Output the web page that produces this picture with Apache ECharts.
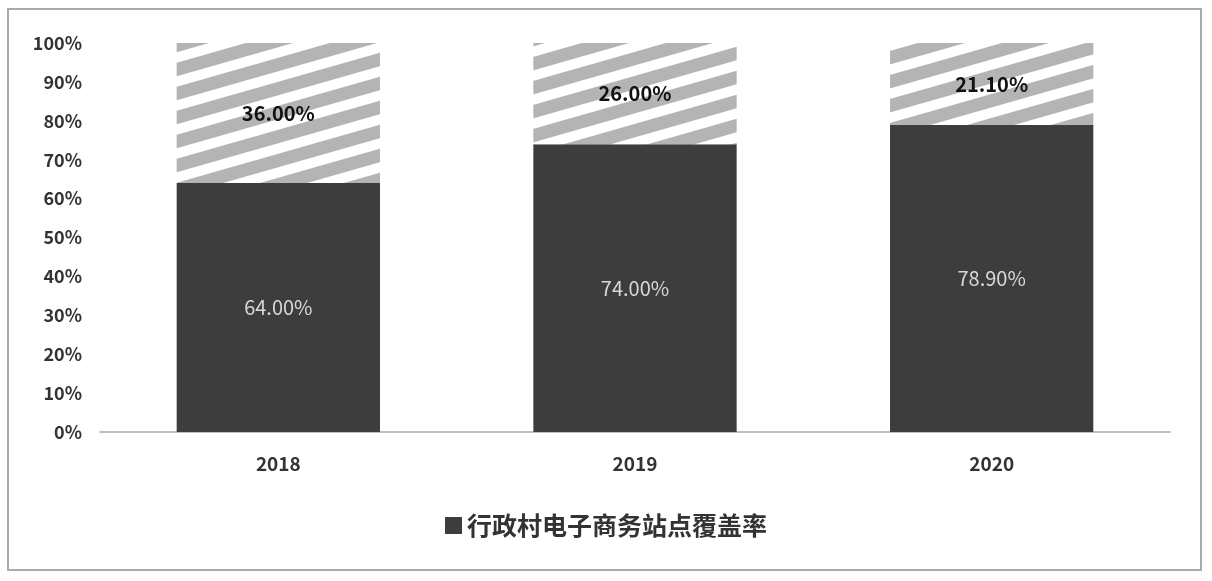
<!DOCTYPE html>
<html><head><meta charset="utf-8">
<script src="https://cdn.jsdelivr.net/npm/echarts@6/dist/echarts.min.js"></script>
<style>html,body{margin:0;padding:0;background:#fff}#c{width:1212px;height:581px}</style>
</head><body><div id="c"></div>
<script>
const categories = ['2018', '2019', '2020'];
const coverage = [64.0, 74.0, 78.9];
const remainder = [36.0, 26.0, 21.1];
const yTicks = [0, 10, 20, 30, 40, 50, 60, 70, 80, 90, 100];
const legendName = '行政村电子商务站点覆盖率';

function stripeTile() {
  const W = 84, H = 24;
  const c = document.createElement('canvas');
  c.width = W; c.height = H;
  const ctx = c.getContext('2d');
  ctx.fillStyle = '#ffffff';
  ctx.fillRect(0, 0, W, H);
  ctx.strokeStyle = '#b4b4b4';
  ctx.lineWidth = 13;
  for (let k = -1; k <= 1; k++) {
    ctx.beginPath();
    ctx.moveTo(-W, H + k * H + H);
    ctx.lineTo(2 * W, k * H - H);
    ctx.stroke();
  }
  return c;
}

const chart = echarts.init(document.getElementById('c'));
const font = '"Noto Sans CJK SC", "Noto Sans", sans-serif';
chart.setOption({
  animation: false,
  textStyle: { fontFamily: font },
  grid: { left: 100, right: 42, top: 43, bottom: 149 },
  legend: {
    data: [{ name: legendName, icon: 'rect' }],
    bottom: 38, left: 'center',
    itemWidth: 17, itemHeight: 17, itemGap: 8,
    textStyle: { fontSize: 25, fontWeight: 'bold', color: '#333', fontFamily: font }
  },
  xAxis: {
    type: 'category', data: categories,
    axisLine: { lineStyle: { color: '#aaaaaa', width: 1.5 } },
    axisTick: { show: false },
    axisLabel: { fontSize: 19, fontWeight: 'bold', color: '#333', margin: 22, fontFamily: font }
  },
  yAxis: {
    type: 'value', min: 0, max: 100, interval: 10,
    axisLine: { show: false }, axisTick: { show: false },
    splitLine: { show: false },
    axisLabel: { fontSize: 18, fontWeight: 'bold', color: '#333', margin: 18, fontFamily: font,
      formatter: v => yTicks.includes(v) ? v + '%' : '' }
  },
  graphic: [{
    type: 'rect', shape: { x: 8, y: 9, width: 1193, height: 561 },
    style: { fill: 'none', stroke: '#aaaaaa', lineWidth: 2 }, silent: true, z: -1
  }],
  series: [
    {
      name: legendName, type: 'bar', stack: 's', data: coverage, barWidth: '57%',
      itemStyle: { color: '#3d3d3d' },
      label: { show: true, position: 'inside', fontSize: 20, color: '#d8d8d8',
        fontFamily: font, formatter: p => p.value.toFixed(2) + '%' }
    },
    {
      name: 'rest', type: 'bar', stack: 's', data: remainder, barWidth: '57%',
      itemStyle: { color: { image: stripeTile(), repeat: 'repeat' } },
      label: { show: true, position: 'inside', fontSize: 20, fontWeight: 'bold', color: '#111',
        fontFamily: font, formatter: p => p.value.toFixed(2) + '%' }
    }
  ]
});
</script></body></html>
